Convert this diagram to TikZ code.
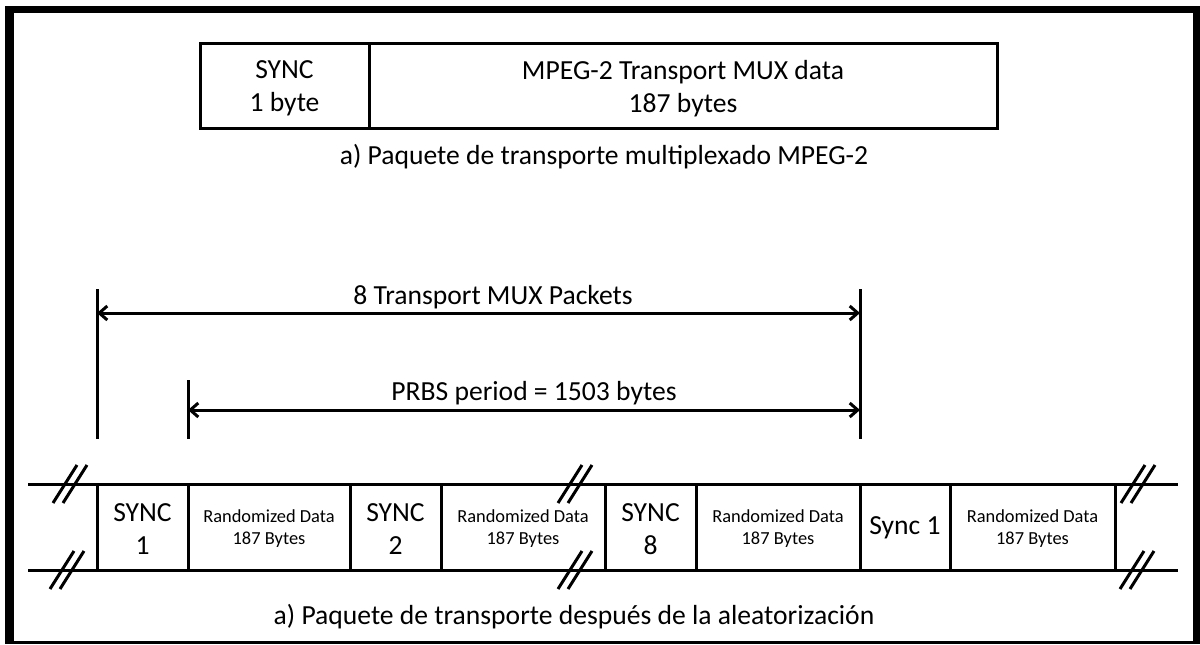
\documentclass[tikz,border=0pt]{standalone}
\usepackage{fontspec}
\setmainfont{Carlito}
\usetikzlibrary{fit,arrows.meta}
\begin{document}
\begin{tikzpicture}[x=0.5pt,y=-0.5pt,
  line width=1.5pt,
  cell/.style={draw, line width=1.5pt, inner sep=0pt},
  txt/.style={inner sep=0pt, align=center},
  big/.style={txt, font=\fontsize{13.8}{16.5}\selectfont},
  bigcell/.style={txt, font=\fontsize{13.8}{16.5}\selectfont},
  small/.style={txt, font=\fontsize{9.2}{11}\selectfont},
  caption/.style={font=\fontsize{13.8}{16}\selectfont},
  dim/.style={{Straight Barb[length=4pt,width=7pt]}-{Straight Barb[length=4pt,width=7pt]}, line width=1.5pt},
  brkmark/.pic={\draw[line width=1.5pt] (-17,19)--(7,-19) (-7,19)--(17,-19);},
]
\useasboundingbox (0,0) rectangle (1200,644);
\clip (0,0) rectangle (1200,644);
% page frame
\fill[black] (5,6) rectangle (1200,644);
\fill[white] (14,13) rectangle (1193,641);

% single transport packet
\node[cell, fit={(200,43)(369,128)}] (sync) {};
\node[cell, fit={(369,43)(997,128)}] (data) {};
\node[big] (synct) at ([yshift=-1.5pt]sync.center) {SYNC\\1 byte};
\node[big] (datat) at ([yshift=-1.5pt]data.center) {MPEG-2 Transport MUX data\\187 bytes};
\node[caption] (cap1) at (604,157) {a) Paquete de transporte multiplexado MPEG-2};

% dimension lines
\coordinate (la) at (97,289);  \coordinate (lb) at (97,439);
\coordinate (ma) at (188,380); \coordinate (mb) at (188,439);
\coordinate (ra) at (860,289); \coordinate (rb) at (860,439);
\draw (la) -- (lb);
\draw (ma) -- (mb);
\draw (ra) -- (rb);
\coordinate (d1l) at (97,313);  \coordinate (d1r) at (860,313);
\coordinate (d2l) at (188,410); \coordinate (d2r) at (860,410);
\draw[dim] (d1l) -- (d1r);
\draw[dim] (d2l) -- (d2r);
\node[caption] (lbl1) at (493,297) {8 Transport MUX Packets};
\node[caption] (lbl2) at (534,393) {PRBS period = 1503 bytes};

% randomized packet stream
\coordinate (tl) at (28,484);  \coordinate (tr) at (1178,484);
\coordinate (bl) at (28,570);  \coordinate (br) at (1178,570);
\draw (tl) -- (tr);
\draw (bl) -- (br);
\node[cell, fit={(97,484)(188,570)}] (s1) {};
\node[cell, fit={(188,484)(350,570)}] (r1) {};
\node[cell, fit={(350,484)(441,570)}] (s2) {};
\node[cell, fit={(441,484)(605,570)}] (r2) {};
\node[cell, fit={(605,484)(696,570)}] (s8) {};
\node[cell, fit={(696,484)(860,570)}] (r8) {};
\node[cell, fit={(860,484)(950,570)}] (sn) {};
\node[cell, fit={(950,484)(1115,570)}] (rn) {};
\node[bigcell] (s1t) at ([yshift=-1pt]s1.center) {SYNC\\1};
\node[small] (r1t) at ([yshift=-1pt]r1.center) {Randomized Data\\187 Bytes};
\node[bigcell] (s2t) at ([yshift=-1pt]s2.center) {SYNC\\2};
\node[small] (r2t) at ([yshift=-1pt]r2.center) {Randomized Data\\187 Bytes};
\node[bigcell] (s8t) at ([yshift=-1pt]s8.center) {SYNC\\8};
\node[small] (r8t) at ([yshift=-1pt]r8.center) {Randomized Data\\187 Bytes};
\node[bigcell] (snt) at ([yshift=-0.5pt]sn.center) {Sync 1};
\node[small] (rnt) at ([yshift=-1pt]rn.center) {Randomized Data\\187 Bytes};

% break marks
\pic at (70,484) {brkmark};
\pic at (67,570) {brkmark};
\pic at (575,484) {brkmark};
\pic at (575,570) {brkmark};
\pic at (1138,484) {brkmark};
\pic at (1137,570) {brkmark};

\node[caption] (cap2) at (574,617) {a) Paquete de transporte después de la aleatorización};
\end{tikzpicture}
\end{document}
